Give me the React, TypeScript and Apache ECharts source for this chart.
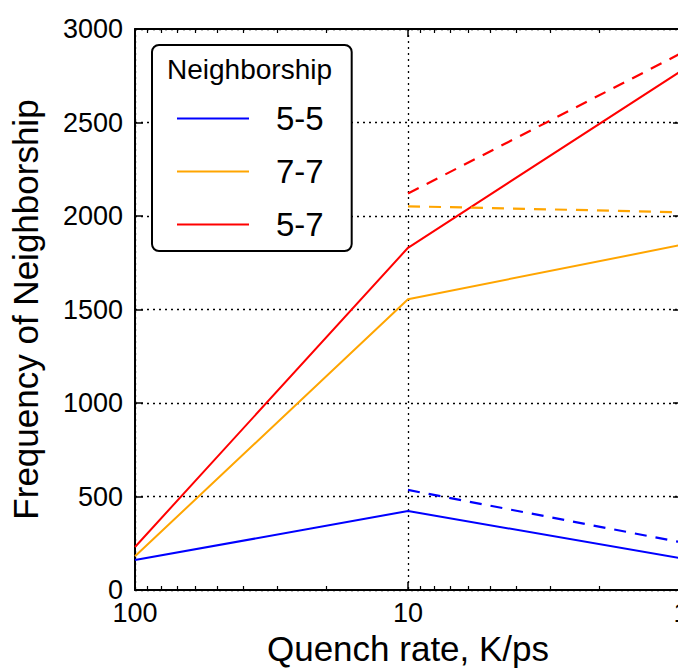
import React, { useEffect, useRef } from "react";
import * as echarts from "echarts";

// Quench rate (K/ps) positions
const quenchRates = [100, 10, 1];
const quenchRatesDashed = [10, 1];

// Solid series values
const solid55 = [160, 422, 170];
const solid77 = [180, 1555, 1845];
const solid57 = [230, 1830, 2775];

// Dashed series values (starting at 10 K/ps)
const dashed55 = [535, 255];
const dashed77 = [2052, 2020];
const dashed57 = [2120, 2870];

const xMajorTicks = [1, 10, 100];
const xMinorTicks = [2, 3, 4, 5, 6, 7, 8, 9, 20, 30, 40, 50, 60, 70, 80, 90];

const legendNames = ["5-5", "7-7", "5-7"];
const colors = ["#0000ff", "#ffa500", "#ff0000"];

const FONT = "Liberation Sans, Arial, Helvetica, sans-serif";

function pairs(xs: number[], ys: number[]) {
  return xs.map((x, i) => [x, ys[i]]);
}

export default function App() {
  const ref = useRef<HTMLDivElement>(null);
  useEffect(() => {
    if (!ref.current) return;
    const chart = echarts.init(ref.current, null, { renderer: "svg" });
    const black = "#000";
    const baseLog = {
      type: "log",
      logBase: 10,
      min: 1,
      max: 100,
      inverse: true,
      gridIndex: 0,
    };
    const xAxes: any[] = [
      {
        ...baseLog,
        position: "bottom",
        name: "Quench rate, K/ps",
        nameLocation: "middle",
        nameGap: 41,
        nameTextStyle: { fontSize: 35, color: black, fontFamily: FONT },
        axisLine: { show: true, onZero: false, lineStyle: { color: black, width: 2 } },
        axisTick: { show: true, inside: true, length: 8, customValues: xMajorTicks, lineStyle: { color: black, width: 1.5 } },
        axisLabel: {
          show: true,
          customValues: xMajorTicks,
          fontSize: 27,
          color: black,
          fontFamily: FONT,
          margin: 9,
          formatter: (v: number) => String(v),
        },
        splitLine: { show: true, lineStyle: { color: black, type: [2, 4], width: 1.3 } },
      },
      {
        ...baseLog,
        position: "bottom",
        axisLine: { show: false, onZero: false },
        axisTick: { show: true, inside: true, length: 4, customValues: xMinorTicks, lineStyle: { color: black, width: 1.2 } },
        axisLabel: { show: false },
        splitLine: { show: false },
      },
      {
        ...baseLog,
        position: "top",
        axisLine: { show: true, onZero: false, lineStyle: { color: black, width: 2 } },
        axisTick: { show: true, inside: true, length: 8, customValues: xMajorTicks, lineStyle: { color: black, width: 1.5 } },
        axisLabel: { show: false },
        splitLine: { show: false },
      },
      {
        ...baseLog,
        position: "top",
        axisLine: { show: false, onZero: false },
        axisTick: { show: true, inside: true, length: 4, customValues: xMinorTicks, lineStyle: { color: black, width: 1.2 } },
        axisLabel: { show: false },
        splitLine: { show: false },
      },
    ];
    const yAxes: any[] = [
      {
        type: "value",
        min: 0,
        max: 3000,
        interval: 500,
        position: "left",
        name: "Frequency of Neighborship",
        nameLocation: "middle",
        nameGap: 92,
        nameRotate: 90,
        nameTextStyle: { fontSize: 35, color: black, fontFamily: FONT },
        axisLine: { show: true, onZero: false, lineStyle: { color: black, width: 2 } },
        axisTick: { show: true, inside: true, length: 8, lineStyle: { color: black, width: 1.5 } },
        axisLabel: {
          fontSize: 27,
          color: black,
          fontFamily: FONT,
          margin: 12,
          formatter: (v: number) => String(v),
        },
        splitLine: { show: true, lineStyle: { color: black, type: [2, 4], width: 1.3 } },
      },
      {
        type: "value",
        min: 0,
        max: 3000,
        interval: 500,
        position: "right",
        axisLine: { show: true, onZero: false, lineStyle: { color: black, width: 2 } },
        axisTick: { show: true, inside: true, length: 8, lineStyle: { color: black, width: 1.5 } },
        axisLabel: { show: false },
        splitLine: { show: false },
      },
    ];
    const solids = [solid55, solid77, solid57];
    const dashes = [dashed55, dashed77, dashed57];
    const series: any[] = [];
    legendNames.forEach((name, i) => {
      series.push({
        name,
        type: "line",
        xAxisIndex: 0,
        yAxisIndex: 0,
        data: pairs(quenchRates, solids[i]),
        symbol: "none",
        showSymbol: false,
        lineStyle: { color: colors[i], width: 2 },
        itemStyle: { color: colors[i] },
        z: 3,
      });
    });
    legendNames.forEach((name, i) => {
      series.push({
        name: name + " (dashed)",
        type: "line",
        xAxisIndex: 0,
        yAxisIndex: 0,
        data: pairs(quenchRatesDashed, dashes[i]),
        symbol: "none",
        showSymbol: false,
        lineStyle: { color: colors[i], width: 2.2, type: [12, 9] },
        itemStyle: { color: colors[i] },
        z: 3,
      });
    });
    chart.setOption({
      animation: false,
      backgroundColor: "#fff",
      textStyle: { fontFamily: FONT },
      grid: {
        left: 135,
        top: 29,
        bottom: 80,
        right: -3,
        containLabel: false,
        outerBoundsMode: "none",
      },
      xAxis: xAxes,
      yAxis: yAxes,
      legend: {
        data: legendNames.map((n) => ({ name: n, icon: "rect" })),
        orient: "vertical",
        left: 152,
        top: 45,
        padding: [57, 28, 10, 25],
        backgroundColor: "#fff",
        borderColor: black,
        borderWidth: 2,
        borderRadius: 7,
        itemWidth: 72,
        itemHeight: 2,
        itemGap: 20,
        textStyle: {
          fontSize: 33,
          lineHeight: 30,
          color: black,
          fontFamily: FONT,
          padding: [0, 0, 0, 22],
        },
        selectedMode: false,
        z: 10,
      },
      graphic: [
        {
          type: "text",
          left: 167,
          top: 55,
          z: 20,
          style: { text: "Neighborship", fontSize: 28, fill: black, fontFamily: FONT },
        },
      ],
      series,
    });
    return () => chart.dispose();
  }, []);
  return (
    <div
      ref={ref}
      style={{ position: "fixed", left: 0, top: 0, width: 678, height: 670, background: "#fff" }}
    />
  );
}
